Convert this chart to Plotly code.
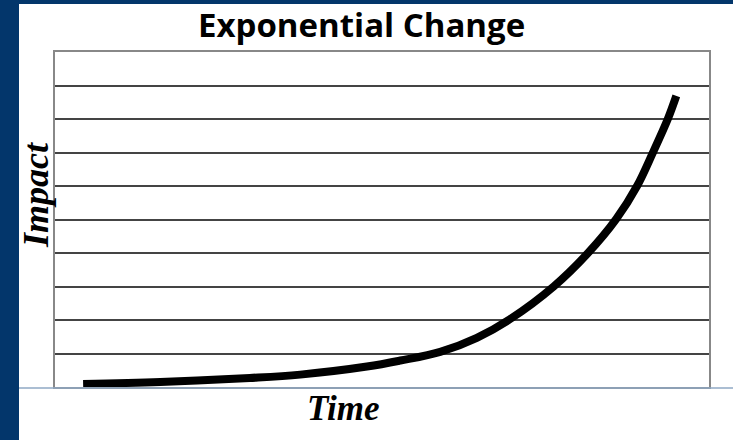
import plotly.graph_objects as go

# Data (time units 0-10, impact units 0-10)
time_vals = [0.43, 1.61, 2.98, 3.75, 4.77, 5.28, 5.89, 6.45, 6.96, 7.63, 8.15, 8.58, 8.90, 9.14, 9.37, 9.50]
impact_vals = [0.09, 0.15, 0.27, 0.37, 0.61, 0.79, 1.05, 1.47, 2.03, 3.01, 4.00, 5.01, 6.00, 6.99, 8.00, 8.69]
grid_ticks = [0, 1, 2, 3, 4, 5, 6, 7, 8, 9, 10]

W, H = 733, 440
L, R, T, B = 55, 24, 52, 53
pw, ph = W - L - R, H - T - B

def px_x(p):
    return (p - L) / pw

def px_y(p):
    return (H - B - p) / ph

navy = "#03366B"

fig = go.Figure()
fig.add_trace(go.Scatter(
    x=time_vals, y=impact_vals, mode="lines",
    line=dict(color="black", width=8, shape="spline", smoothing=1.0),
    hoverinfo="skip", showlegend=False,
))

fig.update_layout(
    width=W, height=H,
    margin=dict(l=L, r=R, t=T, b=B),
    paper_bgcolor="white", plot_bgcolor="white",
    xaxis=dict(range=[0, 10], showgrid=False, zeroline=False, showticklabels=False,
               ticks="", showline=True, linecolor="#888888", linewidth=2, mirror=True,
               fixedrange=True),
    yaxis=dict(range=[0, 10], tickvals=grid_ticks, showgrid=True, gridcolor="#444444",
               gridwidth=1.5, zeroline=False, showticklabels=False, ticks="",
               showline=True, linecolor="#888888", linewidth=2, mirror=True,
               fixedrange=True),
    shapes=[
        dict(type="rect", xref="paper", yref="paper", x0=px_x(0), x1=px_x(19),
             y0=px_y(H), y1=px_y(0), fillcolor=navy, line=dict(width=0), layer="above"),
        dict(type="rect", xref="paper", yref="paper", x0=px_x(0), x1=px_x(W),
             y0=px_y(4), y1=px_y(0), fillcolor=navy, line=dict(width=0), layer="above"),
        dict(type="line", xref="paper", yref="paper", x0=px_x(19), x1=px_x(W),
             y0=px_y(388), y1=px_y(388), line=dict(color="#8FA8C4", width=1.5), layer="above"),
    ],
    annotations=[
        dict(text="<b>Exponential Change</b>", xref="paper", yref="paper",
             x=px_x(361), y=px_y(24), xanchor="center", yanchor="middle", showarrow=False,
             font=dict(family="Open Sans", size=33, color="black")),
        dict(text="<b><i>Impact</i></b>", xref="paper", yref="paper",
             x=px_x(36), y=px_y(195), xanchor="center", yanchor="middle", showarrow=False,
             textangle=-90, font=dict(family="Liberation Serif", size=36, color="black")),
        dict(text="<b><i>Time</i></b>", xref="paper", yref="paper",
             x=px_x(343), y=px_y(408), xanchor="center", yanchor="middle", showarrow=False,
             font=dict(family="Liberation Serif", size=35, color="black")),
    ],
)

fig.write_html("out.html", config={"displayModeBar": False},
               post_script="document.body.style.margin='0';document.body.style.overflow='hidden';")
